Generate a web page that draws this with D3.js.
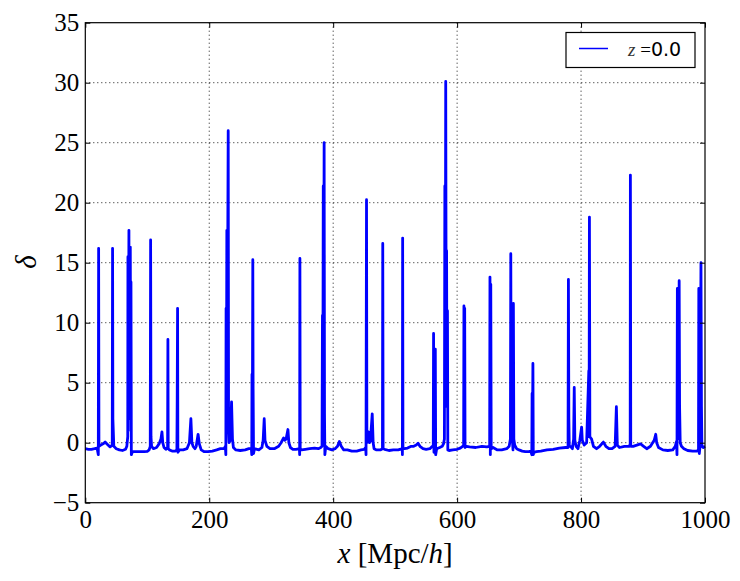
<!DOCTYPE html>
<html>
<head>
<meta charset="utf-8">
<script src="https://cdn.jsdelivr.net/npm/d3@7"></script>
<style>
  body { margin: 0; background: #fff; }
  svg { display: block; }
</style>
</head>
<body>
<svg id="deltaplot" width="740" height="581"></svg>
<script>
//// chart data
// density contrast along the line of sight: [x in Mpc/h, delta]
var deltaProfile = [
  [0, -0.5], [5, -0.55], [10, -0.55], [15, -0.5], [19, -0.45], [21, -1.0], [21.5, 16.2], [22, -0.3],
  [25, -0.2], [30, -0.05], [32, 0.05], [35, -0.1], [40, -0.35], [43.5, -0.2], [44, 16.2], [44.5, 2.0],
  [46, -0.3], [50, -0.5], [55, -0.6], [60, -0.65], [65, -0.55], [67, -0.3], [68.5, 0.5], [68.8, 15.5],
  [69.3, 1.0], [70.4, 17.7], [71, 2.0], [72.6, 16.3], [73.2, 3.0], [73.7, 13.4], [74.3, -1.0], [76, -0.75],
  [85, -0.75], [95, -0.75], [100, -0.72], [103, -0.6], [104.8, -0.3], [105.4, 16.9], [106, 0.5], [107, -0.3],
  [110, -0.5], [115, -0.4], [119, -0.1], [122, 0.3], [123.7, 0.9], [125, 0], [127, -0.4], [130, -0.55],
  [132.8, -0.4], [133.3, 8.6], [133.8, -0.5], [136, -0.6], [140, -0.7], [145, -0.7], [147.8, -0.6], [148.3, 3.6],
  [148.9, 11.2], [149.4, -0.8], [152, -0.6], [158, -0.6], [164, -0.5], [168, 0], [170.4, 2.0], [172, 0],
  [174, -0.3], [177, -0.5], [179, -0.3], [182, 0.7], [184, -0.1], [187, -0.6], [192, -0.75], [198, -0.75],
  [205, -0.7], [212, -0.6], [218, -0.5], [224, -0.5], [226, -0.3], [226.8, -1.0], [227.2, 11.2], [227.8, 3.0],
  [228.4, 17.7], [229, 5.0], [230.6, 26.0], [231.2, 1.0], [232, 0], [234, 0.2], [236, 3.4], [237.5, 0.3],
  [239, -0.4], [243, -0.6], [250, -0.65], [258, -0.6], [264, -0.5], [268, -0.5], [268.6, -1.0], [269, 5.7],
  [269.6, 2.0], [270.3, 15.25], [270.8, 4.5], [271.5, -0.9], [273, -0.5], [280, -0.6], [285, -0.4], [287, 0.2],
  [288.7, 2.0], [290, 0.2], [293, -0.3], [298, -0.5], [305, -0.5], [312, -0.3], [316, 0], [320, 0.4],
  [322, 0.2], [324, 0.3], [327, 1.1], [328.5, 0], [331, -0.4], [335, -0.55], [340, -0.55], [345.5, -0.5],
  [345.9, -1.0], [346.3, 15.35], [346.8, -0.5], [349, -0.6], [355, -0.55], [362, -0.5], [370, -0.45], [376, -0.5],
  [380, -0.4], [382, -0.3], [382.7, 10.6], [383.3, 2.0], [384, 21.4], [384.6, 4.0], [385.4, 25.0], [386, 2.4],
  [386.6, -1.0], [388, -0.3], [392, -0.5], [398, -0.6], [403, -0.5], [407, -0.3], [410, 0.1], [413, -0.3],
  [417, -0.6], [423, -0.6], [430, -0.7], [438, -0.7], [445, -0.6], [450, -0.55], [452.5, -0.4], [453, -1.0],
  [453.8, 20.25], [454.4, 0], [456, 0.4], [457, 0.9], [458.5, 0], [460, 0.1], [463, 2.4], [464.5, 0],
  [466, -0.5], [470, -0.6], [476, -0.6], [479.5, -0.5], [480, 16.6], [480.6, -0.5], [483, -0.55], [490, -0.65],
  [497, -0.6], [505, -0.6], [511.5, -0.5], [511.7, -1.0], [512.1, 17.05], [512.6, -0.5], [515, -0.5], [520, -0.45],
  [526, -0.3], [530, -0.3], [534, -0.2], [537, -0.05], [540, -0.3], [545, -0.5], [550, -0.55], [556, -0.5],
  [560, -0.3], [561.5, -0.3], [562, 9.1], [562.6, -0.8], [564.2, -0.5], [564.8, 7.8], [565.4, -1.0], [567, -0.5],
  [572, -0.4], [576, -0.3], [578, -0.1], [579.5, 0.3], [580.2, 21.4], [580.8, 5.0], [581.6, 30.1], [582.3, 10.0],
  [583, 16.0], [583.6, 3.0], [584.4, 11.0], [585, -0.6], [587, -0.65], [593, -0.6], [600, -0.55], [605, -0.45],
  [609, -0.3], [610.5, -0.2], [611, 11.4], [611.6, 2.0], [612.2, 11.2], [612.8, -0.4], [615, -0.3], [620, -0.35],
  [630, -0.4], [640, -0.3], [648, -0.35], [652.5, -0.3], [653, 13.8], [653.6, -1.0], [654.3, 13.2], [655, -0.5],
  [658, -0.4], [665, -0.6], [672, -0.6], [680, -0.5], [684, -0.3], [686, 0.3], [686.6, 15.75], [687.3, 0.5],
  [689, 0.4], [690.2, -0.6], [690.8, 11.6], [691.5, 0.3], [693, -0.2], [696, -0.5], [700, -0.6], [705, -0.7],
  [710, -0.75], [716, -0.75], [719, -0.7], [720.5, -1.0], [721, 4.1], [721.6, 1.0], [722.3, 6.6], [722.9, -1.0],
  [724, -0.8], [728, -0.75], [735, -0.7], [745, -0.6], [755, -0.55], [765, -0.45], [775, -0.4], [779, -0.4],
  [779.6, 13.6], [780.3, 2.0], [781, -0.3], [783, -0.3], [786, -0.5], [788, 0.3], [789, 4.6], [790, 0.2],
  [792, -0.3], [795, -0.5], [798, 0.2], [800.9, 1.3], [802, 0.2], [805, -0.2], [809, 0], [812.5, 6.0],
  [813, 0.5], [813.5, 18.8], [814.2, 0.5], [817, 0.3], [820, -0.3], [825, -0.5], [830, -0.3], [836, 0.05],
  [840, -0.3], [845, -0.5], [850, -0.5], [855, -0.3], [857, 3.0], [858.5, -0.2], [862, -0.4], [870, -0.3],
  [878, -0.3], [879.3, -0.1], [879.6, 22.3], [880.2, -0.3], [884, -0.3], [890, -0.2], [896, -0.1], [901, -0.3],
  [906, -0.5], [912, -0.3], [918, 0.2], [920.5, 0.7], [922, 0], [925, -0.4], [932, -0.6], [940, -0.65],
  [948, -0.6], [952, -0.3], [954, 0.1], [954.8, -1.0], [955.4, 12.85], [956, 0.3], [957.3, 0.5], [958.3, 13.5],
  [959, 3.0], [960, 0], [962, -0.3], [966, -0.5], [972, -0.65], [980, -0.7], [987, -0.7], [989.5, -0.6],
  [990, 12.85], [990.8, -0.9], [992, -0.3], [993.5, 15.0], [994.3, 3.0], [995, -0.3], [997, -0.4], [1000, -0.3]
];

var xTicks = [0, 200, 400, 600, 800, 1000];
var yTicks = [-5, 0, 5, 10, 15, 20, 25, 30, 35];
var legendLabel = "0.0";

//// define parameters
var svg = d3.select("svg#deltaplot");

var plotLeft = 85.3, plotRight = 705, plotTop = 22.7, plotBottom = 502.7;

var x = d3.scaleLinear().domain([0, 1000]).range([plotLeft, plotRight]);
var y = d3.scaleLinear().domain([-5, 35]).range([plotBottom, plotTop]);

var serif = "'Liberation Serif', 'DejaVu Serif', serif";

// dotted grid
svg.append("g").selectAll("line")
   .data(xTicks.slice(1, -1))
   .enter().append("line")
   .attr("x1", function(d) { return x(d); })
   .attr("x2", function(d) { return x(d); })
   .attr("y1", plotTop)
   .attr("y2", plotBottom)
   .attr("stroke", "#000")
   .attr("stroke-width", 0.9)
   .attr("stroke-dasharray", "1,3");

svg.append("g").selectAll("line")
   .data(yTicks.slice(1, -1))
   .enter().append("line")
   .attr("x1", plotLeft)
   .attr("x2", plotRight)
   .attr("y1", function(d) { return y(d); })
   .attr("y2", function(d) { return y(d); })
   .attr("stroke", "#000")
   .attr("stroke-width", 0.9)
   .attr("stroke-dasharray", "1,3");

// the density line
var line = d3.line()
   .x(function(d) { return x(d[0]); })
   .y(function(d) { return y(d[1]); });

svg.append("path")
   .datum(deltaProfile)
   .attr("d", line)
   .attr("fill", "none")
   .attr("stroke", "#0000ff")
   .attr("stroke-width", 2.8)
   .attr("stroke-linejoin", "round");

// axes, ticks pointing inward on all four sides
function styleAxis(g) {
  g.select(".domain").remove();
  g.selectAll(".tick line").attr("stroke", "#000").attr("stroke-width", 1);
  g.selectAll(".tick text")
   .attr("fill", "#000")
   .style("font-family", serif)
   .style("font-size", "25px");
}

svg.append("g")
   .attr("transform", "translate(0," + plotBottom + ")")
   .call(d3.axisBottom(x).tickValues(xTicks).tickSize(-5).tickPadding(8)
         .tickFormat(function(d) { return d; }))
   .call(styleAxis);

svg.append("g")
   .attr("transform", "translate(" + plotLeft + ",0)")
   .call(d3.axisLeft(y).tickValues(yTicks).tickSize(-5).tickPadding(6)
         .tickFormat(function(d) { return d < 0 ? "\u2212" + (-d) : d; }))
   .call(styleAxis);

svg.append("g")
   .attr("transform", "translate(0," + plotTop + ")")
   .call(d3.axisTop(x).tickValues(xTicks).tickSize(-5).tickFormat(""))
   .call(styleAxis);

svg.append("g")
   .attr("transform", "translate(" + plotRight + ",0)")
   .call(d3.axisRight(y).tickValues(yTicks).tickSize(-5).tickFormat(""))
   .call(styleAxis);

// frame
svg.append("rect")
   .attr("x", plotLeft)
   .attr("y", plotTop)
   .attr("width", plotRight - plotLeft)
   .attr("height", plotBottom - plotTop)
   .attr("fill", "none")
   .attr("stroke", "#000")
   .attr("stroke-width", 1.2);

// axis titles
var xTitle = svg.append("text")
   .attr("x", (plotLeft + plotRight) / 2)
   .attr("y", 563)
   .attr("text-anchor", "middle")
   .style("font-family", serif)
   .style("font-size", "29px");
xTitle.append("tspan").style("font-style", "italic").text("x");
xTitle.append("tspan").text(" [Mpc/");
xTitle.append("tspan").style("font-style", "italic").text("h");
xTitle.append("tspan").text("]");

svg.append("text")
   .attr("transform", "translate(36,262) rotate(-90)")
   .attr("text-anchor", "middle")
   .style("font-family", serif)
   .style("font-style", "italic")
   .style("font-size", "29px")
   .text("\u03b4");

// legend
svg.append("rect")
   .attr("x", 566)
   .attr("y", 32.5)
   .attr("width", 129)
   .attr("height", 35)
   .attr("fill", "#fff")
   .attr("stroke", "#000")
   .attr("stroke-width", 1.2);

svg.append("line")
   .attr("x1", 579)
   .attr("x2", 608)
   .attr("y1", 48.5)
   .attr("y2", 48.5)
   .attr("stroke", "#0000ff")
   .attr("stroke-width", 1.5);

var legendText = svg.append("text")
   .attr("x", 628)
   .attr("y", 56)
   .style("font-size", "19px");
legendText.append("tspan")
   .style("font-family", serif)
   .style("font-style", "italic")
   .attr("fill", "#333")
   .text("z");
legendText.append("tspan")
   .style("font-family", serif)
   .text(" =");
legendText.append("tspan")
   .style("font-family", "'DejaVu Sans', sans-serif")
   .text(legendLabel);
</script>
</body>
</html>
